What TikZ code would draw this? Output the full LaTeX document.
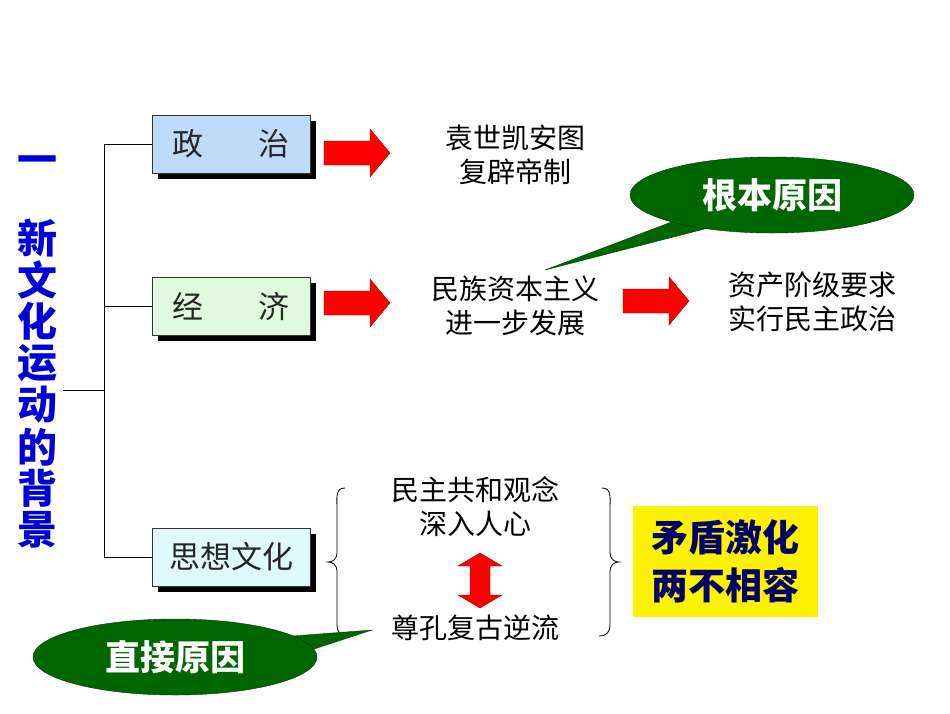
\documentclass[tikz,border=0pt]{standalone}
\usepackage{fontspec}
\setmainfont{Noto Sans CJK SC}
\usetikzlibrary{shapes.geometric,shadows}
\definecolor{zzblue}{RGB}{190,220,250}
\definecolor{jjgreen}{RGB}{224,250,222}
\definecolor{sxcyan}{RGB}{222,250,252}
\begin{document}
\begin{tikzpicture}[x=1pt,y=-1pt,
  box/.style={draw=black!80,minimum width=158pt,minimum height=58pt,inner sep=0pt,font=\fontsize{31}{31}\selectfont\color{black!85},
    drop shadow={shadow xshift=6pt,shadow yshift=-6pt,opacity=1,fill=black}},
  txt/.style={font=\fontsize{28}{34}\selectfont,align=center,inner sep=0pt},
  arr/.style={fill=red,draw=red!60!black},
  callout/.style={fill=green!40!black,draw=green!20!black},
  captxt/.style={font=\fontsize{35}{35}\selectfont\bfseries,text=white}]
\useasboundingbox (0,0) rectangle (950,713);
% vertical title
\foreach \c/\y in {一/165,新/238,文/280,化/321,运/363,动/405,的/447,背/488,景/530}
  \node[text=blue!85!black,font=\fontsize{40}{40}\selectfont\bfseries,inner sep=0pt] at (37,\y) {\c};
% boxes
\node[box,fill=zzblue] (zz) at (231,144) {政\hspace{1.8em}治};
\node[box,fill=jjgreen] (jj) at (231,306) {经\hspace{1.8em}济};
\node[box,fill=sxcyan] (sx) at (231,557) {思想文化};
% tree
\coordinate (root) at (63,390);
\coordinate (tr) at (104,390);
\draw[thick] (root) -- (tr);
\draw[thick] (104,144) -- (104,557);
\draw[thick] (104,144) -- (zz.west);
\draw[thick] (104,306) -- (jj.west);
\draw[thick] (104,557) -- (sx.west);
% arrows
\foreach \x/\y in {324/153,324/303,623/301}
  \draw[arr] (\x,\y-12) -- ++(46,0) -- ++(0,-12) -- ++(20,24) -- ++(-20,24) -- ++(0,-12) -- ++(-46,0) -- cycle;
% texts
\node[txt] (t1) at (515,155) {袁世凯安图\\复辟帝制};
\node[txt] (t2) at (515,306) {民族资本主义\\进一步发展};
\node[txt] (t3) at (812,302) {资产阶级要求\\实行民主政治};
\node[txt] (t4) at (475,507) {民主共和观念\\深入人心};
\node[txt] (t5) at (475,628) {尊孔复古逆流};
% double arrow
\draw[arr] (480,553) -- (502,566) -- (490,566) -- (490,595) -- (502,595) -- (480,608) -- (458,595) -- (470,595) -- (470,566) -- (458,566) -- cycle;
% braces
\draw[thick] (345,488) .. controls (335,488) and (337,498) .. (337,510) -- (337,552) .. controls (337,560) and (332,562) .. (328,562) .. controls (332,562) and (337,564) .. (337,572) -- (337,624) .. controls (337,632) and (340,636) .. (348,636);
\draw[thick] (602,488) .. controls (612,488) and (610,498) .. (610,510) -- (610,552) .. controls (610,560) and (615,562) .. (619,562) .. controls (615,562) and (610,564) .. (610,572) -- (610,624) .. controls (610,632) and (607,636) .. (599,636);
% yellow
\node[fill=yellow,minimum width=185pt,minimum height=111pt,inner sep=0pt,align=center,font=\fontsize{37}{48}\selectfont\bfseries,text=blue!40!black] (yb) at (725,561) {矛盾激化\\两不相容};
% callouts
\fill[callout] (690,215) -- (545,270) -- (720,225) -- cycle;
\node[callout,ellipse,minimum width=284pt,minimum height=76pt,captxt] (c1) at (772,195) {根本原因};
\fill[callout] (240,640) -- (372,630) -- (250,670) -- cycle;
\node[callout,ellipse,minimum width=284pt,minimum height=76pt,captxt] (c2) at (175,657) {直接原因};
\end{tikzpicture}
\end{document}
